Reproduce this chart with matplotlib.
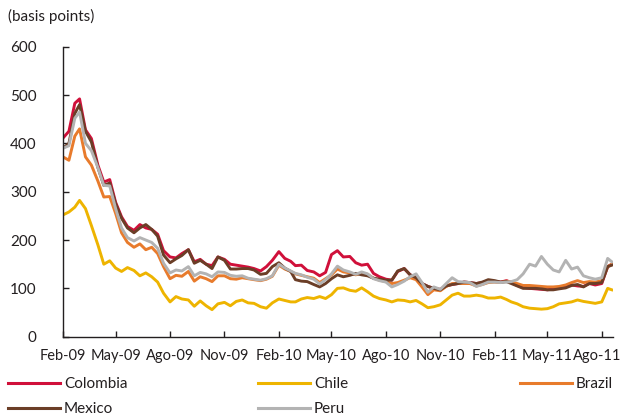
import matplotlib
matplotlib.use("Agg")
import matplotlib.pyplot as plt
import matplotlib.transforms as mtransforms
import pandas as pd

plt.rcParams['font.family'] = ['Lato', 'DejaVu Sans']

# ---- data (basis points), sampled on the 1st, 11th and 21st of each month ----
month_starts = pd.date_range('2009-02-01', '2011-08-01', freq='MS')
dates = [d + pd.Timedelta(days=k) for d in month_starts for k in (0, 10, 20)][:92] + [pd.Timestamp('2011-08-18')]

colombia = [411, 425, 483, 492, 428, 410, 355, 320, 325, 278,
            248, 228, 220, 232, 225, 222, 212, 178, 165, 163,
            172, 180, 155, 160, 150, 147, 165, 160, 150, 148,
            146, 144, 141, 136, 145, 158, 176, 162, 156, 147,
            148, 137, 134, 126, 133, 170, 178, 165, 166, 153,
            148, 150, 131, 124, 119, 117, 135, 141, 128, 124,
            110, 104, 100, 98, 105, 108, 110, 113, 112, 110,
            112, 116, 114, 113, 116, 112, 106, 102, 100, 99,
            98, 97, 99, 100, 104, 107, 105, 104, 110, 107,
            110, 145, 150]

chile = [252, 258, 268, 282, 265, 230, 190, 150, 157, 142,
         135, 143, 137, 126, 132, 124, 113, 90, 72, 83,
         78, 76, 63, 74, 64, 56, 68, 71, 64, 73,
         76, 70, 69, 62, 59, 70, 78, 75, 72, 72,
         78, 81, 79, 83, 79, 87, 100, 101, 96, 94,
         101, 93, 84, 79, 76, 72, 76, 75, 72, 75,
         68, 60, 62, 66, 76, 86, 90, 84, 84, 86,
         84, 80, 80, 82, 77, 72, 68, 62, 59, 58,
         57, 58, 62, 68, 70, 72, 76, 73, 71, 69,
         72, 100, 97]

brazil = [372, 365, 415, 430, 372, 355, 322, 289, 290, 255,
          215, 195, 185, 192, 180, 185, 172, 145, 120, 127,
          125, 135, 115, 124, 120, 114, 126, 126, 120, 119,
          122, 120, 118, 116, 119, 125, 148, 140, 135, 130,
          127, 124, 121, 112, 120, 128, 140, 134, 132, 128,
          132, 129, 121, 117, 114, 110, 112, 117, 122, 118,
          103, 87, 97, 95, 104, 110, 110, 110, 110, 105,
          108, 112, 113, 112, 115, 113, 110, 106, 106, 105,
          104, 103, 103, 104, 107, 112, 116, 112, 114, 113,
          116, 145, 150]

mexico = [390, 400, 462, 480, 425, 403, 350, 313, 318, 275,
          245, 225, 215, 225, 232, 222, 208, 169, 153, 161,
          168, 180, 152, 158, 150, 141, 165, 158, 140, 140,
          141, 141, 138, 129, 131, 145, 153, 142, 135, 118,
          115, 114, 108, 103, 110, 120, 128, 124, 127, 131,
          128, 126, 121, 119, 117, 117, 136, 141, 128, 122,
          110, 104, 100, 97, 105, 108, 110, 113, 112, 110,
          113, 118, 116, 113, 114, 110, 105, 100, 100, 100,
          99, 97, 97, 99, 101, 106, 108, 103, 110, 110,
          112, 145, 148]

peru = [390, 395, 452, 465, 400, 385, 350, 313, 312, 265,
        225, 205, 198, 205, 200, 195, 183, 152, 132, 138,
        136, 145, 126, 133, 130, 124, 134, 133, 127, 125,
        126, 121, 119, 117, 120, 126, 150, 142, 136, 131,
        128, 123, 119, 109, 118, 130, 146, 138, 134, 129,
        134, 130, 120, 116, 113, 103, 108, 115, 124, 130,
        112, 92, 103, 98, 110, 122, 114, 113, 112, 104,
        108, 113, 113, 112, 113, 114, 118, 130, 150, 146,
        166, 150, 138, 134, 158, 140, 144, 126, 122, 119,
        122, 162, 155]

tick_dates = pd.date_range('2009-02-01', periods=11, freq='3MS')
tick_labels = ["Feb-09", "May-09", "Ago-09", "Nov-09", "Feb-10", "May-10",
               "Ago-10", "Nov-10", "Feb-11", "May-11", "Ago-11"]

series = [("Colombia", colombia, "#D0103A"),
          ("Chile", chile, "#EEB400"),
          ("Brazil", brazil, "#E87B2C"),
          ("Mexico", mexico, "#6B3E27"),
          ("Peru", peru, "#B3B3B3")]

# ---- figure ----
fig = plt.figure(figsize=(6.22, 4.15), dpi=100)
ax = fig.add_axes([63 / 622, 1 - 336.7 / 415, 550 / 622, 290 / 415])

lines = {}
for name, vals, col in series:
    ln, = ax.plot(dates, vals, color=col, lw=2.1, solid_joinstyle='round')
    lines[name] = ln

ax.set_ylim(0, 600)
ax.set_yticks(range(0, 601, 100))
ax.set_xlim(pd.Timestamp('2009-02-01'), pd.Timestamp('2011-08-20'))
ax.set_xticks(tick_dates)
ax.set_xticklabels(tick_labels)

for s in ('top', 'right'):
    ax.spines[s].set_visible(False)
for s in ('left', 'bottom'):
    ax.spines[s].set_linewidth(1.0)
    ax.spines[s].set_color('#231F20')

txtcol = '#231F20'
ax.tick_params(axis='both', direction='in', length=4, width=1.0, colors='#231F20',
               labelsize=11, labelcolor=txtcol)
ax.tick_params(axis='y', pad=19)
ax.tick_params(axis='x', pad=9, labelsize=10.5)

# nudge the last x label so it stays inside the figure
last = ax.get_xticklabels()[-1]
last.set_transform(last.get_transform() +
                   mtransforms.ScaledTranslation(-5 / 100, 0, fig.dpi_scale_trans))

fig.text(8 / 622, 1 - 16 / 415, "(basis points)", fontsize=11, color=txtcol,
         ha='left', va='center')

# ---- legend: three columns ----
cols = [(["Colombia", "Mexico"], 8), (["Chile", "Peru"], 258), (["Brazil"], 520)]
for names, xpx in cols:
    leg = fig.legend([lines[n] for n in names], names, loc='upper left',
                     bbox_to_anchor=(xpx / 622, 1 - 377 / 415),
                     frameon=False, fontsize=11, handlelength=3.4,
                     handletextpad=0.25, labelspacing=0.72, borderpad=0,
                     borderaxespad=0)
    for t in leg.get_texts():
        t.set_color(txtcol)
    for h in leg.legend_handles:
        h.set_linewidth(2.2)

fig.savefig("out.png", dpi=100)
